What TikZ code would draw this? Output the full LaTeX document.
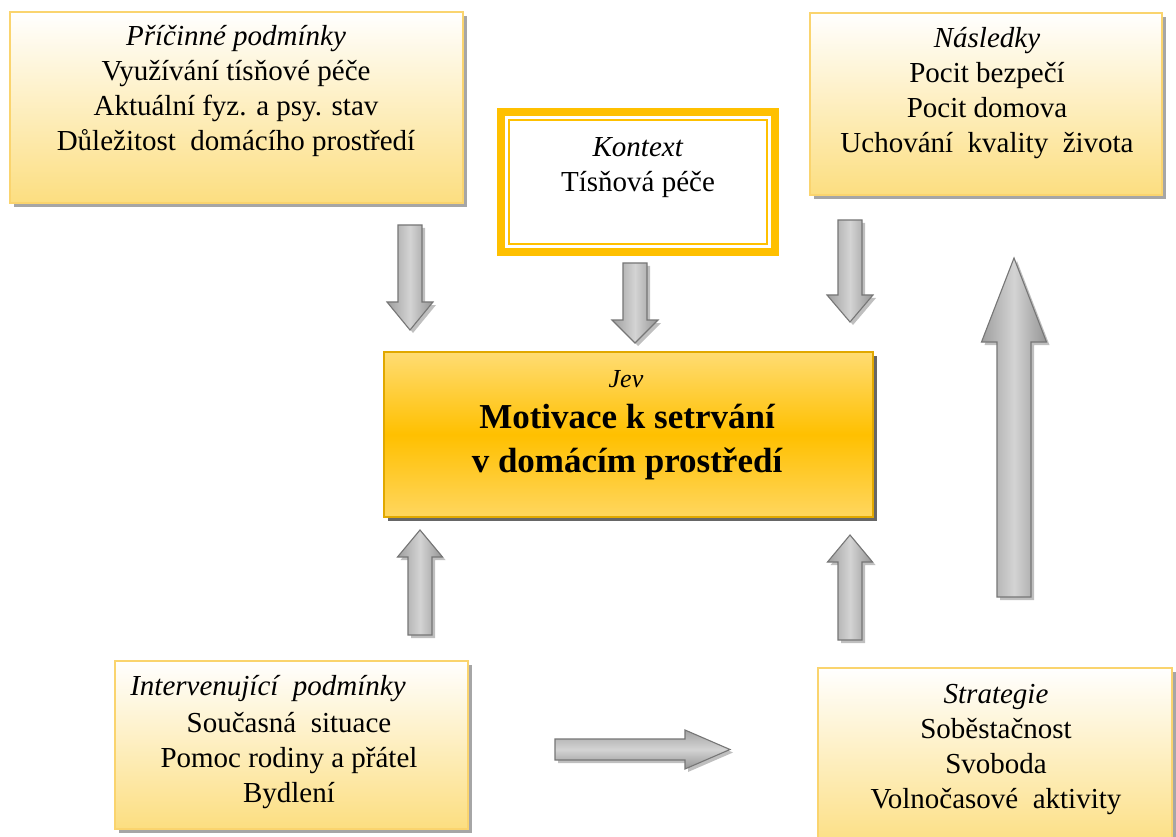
\documentclass[tikz,border=0pt]{standalone}
\usepackage{fontspec}
\setmainfont{Liberation Serif}
\usetikzlibrary{shadows}
\definecolor{gold}{RGB}{255,192,0}
\definecolor{goldline}{RGB}{250,212,110}
\definecolor{boxbot}{RGB}{252,222,128}
\definecolor{jevtop}{RGB}{255,220,115}
\definecolor{jevbot}{RGB}{255,214,95}
\definecolor{jevline}{RGB}{225,168,0}
\definecolor{arrline}{RGB}{118,118,118}
\tikzset{
  box/.style={draw=goldline, line width=1.2pt, top color=white, bottom color=boxbot,
    inner sep=0pt, drop shadow={shadow xshift=4pt, shadow yshift=-4pt, opacity=0.35, fill=black}},
  txt/.style={anchor=north, inner sep=0pt, align=center, font=\fontsize{29}{35}\selectfont},
  head/.style={anchor=base, inner sep=0pt, font=\fontsize{29}{35}\selectfont\itshape},
  varrow/.style={draw=arrline, line width=1.1pt, left color=black!38, right color=black!42,
    middle color=black!17, drop shadow={shadow xshift=3pt, shadow yshift=-3pt, opacity=0.25, fill=black}},
  harrow/.style={draw=arrline, line width=1.1pt, top color=black!36, bottom color=black!42,
    middle color=black!17, drop shadow={shadow xshift=3pt, shadow yshift=-3pt, opacity=0.25, fill=black}},
}
\newcommand\vblock[6]{\draw[varrow] ({#1-#5},#2) -- ({#1+#5},#2) -- ({#1+#5},#3) -- ({#1+#6},#3) -- (#1,#4) -- ({#1-#6},#3) -- ({#1-#5},#3) -- cycle;}
\newcommand\fr{\rule{0pt}{25pt}}
\begin{document}
\begin{tikzpicture}[x=1pt,y=-1pt]
\useasboundingbox (0,0) rectangle (1176,837);
\clip (0,0) rectangle (1176,837);
\fill[white] (0,0) rectangle (1176,837);

% boxes
\node[box, minimum width=453pt, minimum height=191pt] (cause) at (236.5,107.5) {};
\node[box, minimum width=352pt, minimum height=182pt] (cons) at (986,104) {};
\node[box, minimum width=353pt, minimum height=168pt] (interv) at (291.5,745) {};
\node[box, minimum width=354pt, minimum height=182pt] (strat) at (995,759) {};

% context box
\node[fill=gold, inner sep=0pt, minimum width=282pt, minimum height=148pt] (ctx) at (638,182) {};
\node[fill=white, inner sep=0pt, minimum width=266pt, minimum height=132pt] (ctxin) at (ctx.center) {};
\node[draw=gold, line width=2pt, inner sep=0pt, minimum width=258pt, minimum height=124pt] (ctxline) at (ctx.center) {};

% phenomenon box
\node[draw=jevline, line width=1.2pt, inner sep=0pt, minimum width=489pt, minimum height=165pt,
  top color=jevtop, bottom color=jevbot, middle color=gold,
  drop shadow={shadow xshift=4pt, shadow yshift=-4pt, opacity=0.6, fill=black}] (jev) at (628.5,434.5) {};

% texts
\node[txt] (causeT) at (236,20) {\fr\textit{Příčinné podmínky}\\Využívání tísňové péče\\Aktuální fyz. a psy. stav\\Důležitost \ domácího prostředí};
\node[txt] (ctxT) at (638,131) {\fr\textit{Kontext}\\Tísňová péče};
\node[txt] (consT) at (987,22) {\fr\textit{Následky}\\Pocit bezpečí\\Pocit domova\\Uchování \ kvality \ života};
\node[anchor=base, inner sep=0pt, font=\fontsize{26}{31}\selectfont\itshape] (jevL) at (626,387) {Jev};
\node[anchor=north, inner sep=0pt, align=center, font=\fontsize{35}{44}\selectfont\bfseries] (jevT) at (627,397) {\rule{0pt}{31pt}Motivace k setrvání\\v domácím prostředí};
\node[head] (intervH) at (268,695) {Intervenující \ podmínky};
\node[txt] (intervT) at (289,707) {\fr Současná \ situace\\Pomoc rodiny a přátel\\Bydlení};
\node[txt] (stratT) at (996,678) {\fr\textit{Strategie}\\Soběstačnost\\Svoboda\\Volnočasové \ aktivity};

% block arrows
\vblock{410}{225}{302}{330}{12}{23}
\vblock{635}{263}{320}{343}{12}{23}
\vblock{850}{220}{295}{322}{12}{23}
\vblock{420}{635}{557}{530}{12}{22.5}
\vblock{850}{640}{562}{535}{12}{22.5}
\vblock{1014}{597}{342}{258}{17}{32.5}
\draw[harrow] (555,739) -- (685,739) -- (685,730) -- (730,749.5) -- (685,769) -- (685,760) -- (555,760) -- cycle;
\end{tikzpicture}
\end{document}
